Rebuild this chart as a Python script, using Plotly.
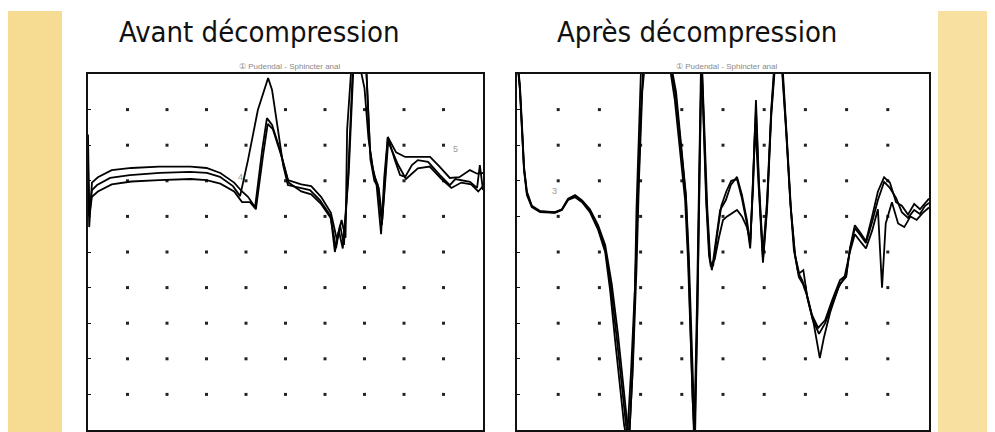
import numpy as np
import plotly.graph_objects as go

# page body has an 8px margin; figure sized so it ends at the window edge
OFF = 8
W, H = 995 - OFF, 432 - OFF

# ---------------- data (grid divisions) ----------------
# Panel 1 : "Avant décompression"
p1_xa = [0.00, 0.03, 0.10, 0.23, 0.56, 1.06, 1.82, 2.58, 3.01, 3.34, 3.67, 3.85, 4.05, 4.30, 4.56, 4.66, 4.81, 4.94, 5.06,
         5.37, 5.62, 5.87, 6.13, 6.28, 6.38, 6.48, 6.58, 6.71, 6.89, 7.04, 7.14, 7.24, 7.34, 7.44, 7.51, 7.59, 7.77, 7.90,
         8.03, 8.20, 8.35, 8.61, 8.91, 9.16, 9.30, 9.47, 9.67, 9.85, 9.92, 10.0]
p1_ya = [8.30, 6.10, 6.74, 6.88, 7.08, 7.16, 7.22, 7.25, 7.22, 7.11, 6.85, 6.57, 7.58, 8.99, 9.89, 9.55, 8.43, 7.44, 6.88,
         6.80, 6.74, 6.46, 6.04, 5.11, 5.76, 5.20, 7.02, 10.3, 10.4, 10.3, 7.87, 7.16, 6.88, 5.76, 7.02, 8.23, 7.58, 7.16,
         7.11, 7.44, 7.58, 7.53, 7.16, 6.88, 7.05, 7.02, 6.97, 6.80, 7.44, 6.74]

p1_xb = [0.00, 0.03, 0.10, 0.25, 0.60, 1.10, 1.80, 2.60, 3.00, 3.35, 3.70, 3.90, 4.05, 4.23, 4.41, 4.53, 4.66, 4.86, 5.06,
         5.40, 5.65, 5.90, 6.15, 6.30, 6.42, 6.52, 6.56, 6.68, 6.85, 7.00, 7.10, 7.20, 7.30, 7.42, 7.50, 7.59, 7.80, 8.03,
         8.30, 8.66, 8.90, 9.16, 9.40, 9.67, 9.85, 10.0]
p1_yb = [7.60, 5.70, 6.95, 7.10, 7.30, 7.36, 7.40, 7.40, 7.36, 7.22, 6.95, 6.70, 6.55, 6.26, 7.87, 8.76, 8.57, 7.87, 7.02,
         6.90, 6.85, 6.55, 6.10, 5.35, 5.90, 5.40, 8.43, 10.4, 10.4, 9.60, 8.20, 7.40, 6.95, 5.50, 7.10, 8.23, 7.80, 7.67,
         7.67, 7.67, 7.40, 7.08, 7.10, 7.30, 7.20, 7.22]

p1_xc = [0.00, 0.03, 0.10, 0.25, 0.60, 1.10, 1.80, 2.60, 3.00, 3.35, 3.70, 3.90, 4.10, 4.25, 4.43, 4.55, 4.68, 4.88, 5.08,
         5.40, 5.65, 5.90, 6.15, 6.25, 6.35, 6.45, 6.60, 6.72, 6.90, 7.05, 7.15, 7.25, 7.36, 7.45, 7.52, 7.60, 7.85, 8.05,
         8.35, 8.65, 8.95, 9.20, 9.45, 9.70, 9.88, 10.0]
p1_yc = [7.20, 6.00, 6.55, 6.70, 6.90, 6.98, 7.02, 7.05, 7.02, 6.92, 6.70, 6.40, 6.40, 6.20, 7.70, 8.60, 8.45, 7.75, 6.95,
         6.70, 6.62, 6.35, 5.95, 5.00, 5.60, 5.10, 7.20, 10.2, 10.4, 10.0, 7.60, 7.00, 6.80, 5.90, 6.90, 8.10, 7.45, 7.05,
         7.35, 7.40, 7.05, 6.80, 6.95, 6.90, 6.70, 6.85]

# Panel 2 : "Après décompression"
p2_xa = [0.00, 0.07, 0.12, 0.17, 0.24, 0.36, 0.56, 0.92, 1.09, 1.24, 1.41, 1.58, 1.77, 1.97, 2.14, 2.26, 2.38, 2.50, 2.60,
         2.67, 2.77, 2.86, 2.94, 3.01, 3.08, 3.67, 3.83, 3.96, 4.08, 4.15, 4.20, 4.25, 4.30, 4.37, 4.42, 4.47, 4.51, 4.59,
         4.66, 4.73, 4.83, 4.93, 5.07, 5.19, 5.34, 5.46, 5.58, 5.66, 5.73, 5.80, 5.87, 5.97, 6.07, 6.17, 6.26, 6.41, 6.53,
         6.63, 6.72, 6.82, 6.92, 7.01, 7.16, 7.31, 7.48, 7.65, 7.84, 7.99, 8.08, 8.20, 8.33, 8.47, 8.62, 8.76, 8.91, 9.05,
         9.20, 9.34, 9.49, 9.64, 9.78, 9.90, 10.0]
p2_ya = [10.5, 9.55, 8.43, 7.30, 6.60, 6.26, 6.12, 6.10, 6.18, 6.46, 6.54, 6.40, 6.12, 5.62, 5.00, 3.93, 2.53, 1.26, 0.14,
         -0.3, 1.69, 3.93, 6.46, 8.99, 10.5, 10.5, 9.27, 7.87, 6.46, 4.78, 2.81, 0.84, -0.3, 3.65, 7.58, 10.5, 9.27, 6.46,
         4.92, 4.49, 5.34, 6.18, 6.46, 6.88, 7.11, 6.60, 5.90, 5.20, 7.02, 9.27, 7.02, 4.92, 6.46, 8.99, 10.5, 10.5, 8.43,
         6.46, 5.06, 4.44, 4.21, 3.93, 3.23, 2.87, 3.09, 3.65, 4.21, 4.35, 5.06, 5.67, 5.48, 5.25, 5.84, 6.46, 6.97, 6.80,
         6.52, 6.12, 5.96, 6.18, 6.07, 6.29, 6.38]

p2_xb = [0.00, 0.07, 0.12, 0.17, 0.24, 0.36, 0.56, 0.92, 1.09, 1.24, 1.41, 1.58, 1.77, 1.97, 2.14, 2.30, 2.45, 2.60, 2.72,
         2.80, 2.86, 2.90, 2.96, 3.02, 3.10, 3.70, 3.86, 3.99, 4.10, 4.17, 4.22, 4.27, 4.32, 4.38, 4.43, 4.48, 4.53, 4.62,
         4.70, 4.80, 4.90, 5.00, 5.10, 5.22, 5.34, 5.46, 5.58, 5.66, 5.73, 5.78, 5.87, 5.97, 6.07, 6.17, 6.28, 6.43, 6.55,
         6.65, 6.75, 6.85, 6.95, 7.05, 7.20, 7.35, 7.45, 7.60, 7.80, 7.95, 8.08, 8.20, 8.33, 8.47, 8.62, 8.76, 8.86, 8.95,
         9.10, 9.25, 9.40, 9.55, 9.70, 9.85, 10.0]
p2_yb = [10.5, 9.70, 8.60, 7.40, 6.70, 6.30, 6.15, 6.12, 6.20, 6.50, 6.60, 6.45, 6.20, 5.75, 5.20, 4.10, 2.70, 1.10, -0.3,
         1.50, 3.80, 6.20, 8.60, 10.5, 10.5, 10.5, 9.50, 8.00, 6.60, 4.90, 2.90, 0.80, -0.3, 3.40, 7.30, 10.5, 9.00, 6.20,
         4.60, 4.80, 5.40, 5.90, 6.00, 6.10, 6.18, 6.00, 5.70, 5.30, 6.80, 8.60, 6.60, 4.70, 6.20, 8.80, 10.5, 10.5, 8.20,
         6.20, 4.90, 4.40, 4.49, 3.70, 3.00, 2.02, 2.60, 3.30, 4.00, 4.30, 5.00, 5.50, 5.30, 5.10, 5.60, 6.20, 4.00, 5.80,
         6.40, 5.80, 5.70, 6.00, 5.90, 6.10, 6.25]

p2_xc = [0.00, 0.07, 0.12, 0.17, 0.24, 0.36, 0.56, 0.92, 1.09, 1.24, 1.41, 1.58, 1.77, 1.97, 2.14, 2.28, 2.42, 2.55, 2.65,
         2.72, 2.82, 2.90, 2.96, 3.04, 3.12, 3.68, 3.85, 3.98, 4.10, 4.16, 4.21, 4.26, 4.31, 4.38, 4.43, 4.48, 4.52, 4.60,
         4.68, 4.76, 4.86, 4.96, 5.08, 5.20, 5.34, 5.46, 5.58, 5.66, 5.73, 5.80, 5.87, 5.97, 6.07, 6.17, 6.27, 6.42, 6.54,
         6.64, 6.74, 6.84, 6.94, 7.03, 7.18, 7.33, 7.48, 7.65, 7.84, 7.99, 8.08, 8.20, 8.33, 8.47, 8.62, 8.76, 8.91, 9.05,
         9.20, 9.34, 9.49, 9.64, 9.78, 9.90, 10.0]
p2_yc = [10.5, 9.60, 8.50, 7.35, 6.65, 6.28, 6.14, 6.11, 6.19, 6.48, 6.57, 6.42, 6.15, 5.68, 5.10, 4.00, 2.60, 1.20, 0.10,
         -0.3, 2.00, 4.50, 7.00, 9.50, 10.5, 10.5, 9.40, 7.95, 6.55, 4.85, 2.85, 0.90, -0.2, 3.50, 7.40, 10.5, 9.10, 6.35,
         4.75, 4.60, 5.50, 6.30, 6.70, 7.00, 7.05, 6.50, 5.80, 5.10, 7.10, 9.00, 6.90, 4.80, 6.30, 8.90, 10.5, 10.5, 8.30,
         6.30, 5.00, 4.30, 4.10, 3.80, 3.10, 2.70, 3.00, 3.55, 4.10, 4.30, 5.10, 5.75, 5.55, 5.30, 6.00, 6.70, 7.10, 6.95,
         6.40, 6.30, 6.05, 6.35, 6.20, 6.35, 6.50]

grid_ticks = list(range(1, 10))

# ---------------- figure ----------------
fig = go.Figure()

def px_x(p):
    return max(0.0, (p - OFF) / W)

def px_y(p):
    return 1 - (p - OFF) / H

panels = [
    dict(xa="x", ya="y", traces=[(p1_xa, p1_ya), (p1_xb, p1_yb), (p1_xc, p1_yc)]),
    dict(xa="x2", ya="y2", traces=[(p2_xa, p2_ya), (p2_xb, p2_yb), (p2_xc, p2_yc)]),
]

gx, gy = np.meshgrid(grid_ticks, grid_ticks)
for p in panels:
    fig.add_trace(go.Scatter(x=gx.ravel(), y=gy.ravel(), mode="markers", xaxis=p["xa"], yaxis=p["ya"],
                             marker=dict(symbol="square", size=3, color="#222"), hoverinfo="skip", showlegend=False))
    for (xs, ys) in p["traces"]:
        fig.add_trace(go.Scatter(x=xs, y=ys, mode="lines", xaxis=p["xa"], yaxis=p["ya"],
                                 line=dict(color="#000", width=1.8), showlegend=False))

axis_common = dict(range=[0, 10], showgrid=False, zeroline=False, showticklabels=False,
                   showline=True, linecolor="#111", linewidth=2, mirror=True)

title_font = dict(family="DejaVu Sans Condensed, DejaVu Sans", size=29, color="#111")
sub_font = dict(family="Liberation Sans", size=8, color="#888")
num_font = dict(family="Liberation Sans", size=9, color="#999")

fig.update_layout(
    width=W, height=H, margin=dict(l=0, r=0, t=0, b=0),
    paper_bgcolor="white", plot_bgcolor="white",
    xaxis=dict(domain=[px_x(88), px_x(483)], ticks="", anchor="y", **axis_common),
    yaxis=dict(domain=[px_y(430), px_y(74)], anchor="x", ticks="inside", ticklen=3, tickcolor="#111",
               tickvals=grid_ticks, **axis_common),
    xaxis2=dict(domain=[px_x(517), px_x(929)], ticks="", anchor="y2", **axis_common),
    yaxis2=dict(domain=[px_y(430), px_y(74)], anchor="x2", ticks="inside", ticklen=3, tickcolor="#111",
                tickvals=grid_ticks, **axis_common),
    shapes=[
        dict(type="rect", xref="paper", yref="paper", x0=px_x(6), x1=px_x(62), y0=0, y1=px_y(11),
             fillcolor="#F6DB93", line=dict(width=0), layer="below"),
        dict(type="rect", xref="paper", yref="paper", x0=px_x(938), x1=1, y0=0, y1=px_y(11),
             fillcolor="#F8E0A0", line=dict(width=0), layer="below"),
    ],
    annotations=[
        dict(text="Avant décompression", xref="paper", yref="paper", x=px_x(260), y=px_y(32),
             xanchor="center", yanchor="middle", showarrow=False, font=title_font),
        dict(text="Après décompression", xref="paper", yref="paper", x=px_x(697), y=px_y(32),
             xanchor="center", yanchor="middle", showarrow=False, font=title_font),
        dict(text="① Pudendal - Sphincter anal", xref="paper", yref="paper", x=px_x(290), y=px_y(66),
             xanchor="center", yanchor="middle", showarrow=False, font=sub_font),
        dict(text="① Pudendal - Sphincter anal", xref="paper", yref="paper", x=px_x(727), y=px_y(66),
             xanchor="center", yanchor="middle", showarrow=False, font=sub_font),
        dict(text="4", xref="x", yref="y", x=3.85, y=7.1, showarrow=False, font=num_font),
        dict(text="5", xref="x", yref="y", x=9.3, y=7.9, showarrow=False, font=num_font),
        dict(text="3", xref="x2", yref="y2", x=0.9, y=6.7, showarrow=False, font=num_font),
    ],
)

fig.write_html("out.html")
